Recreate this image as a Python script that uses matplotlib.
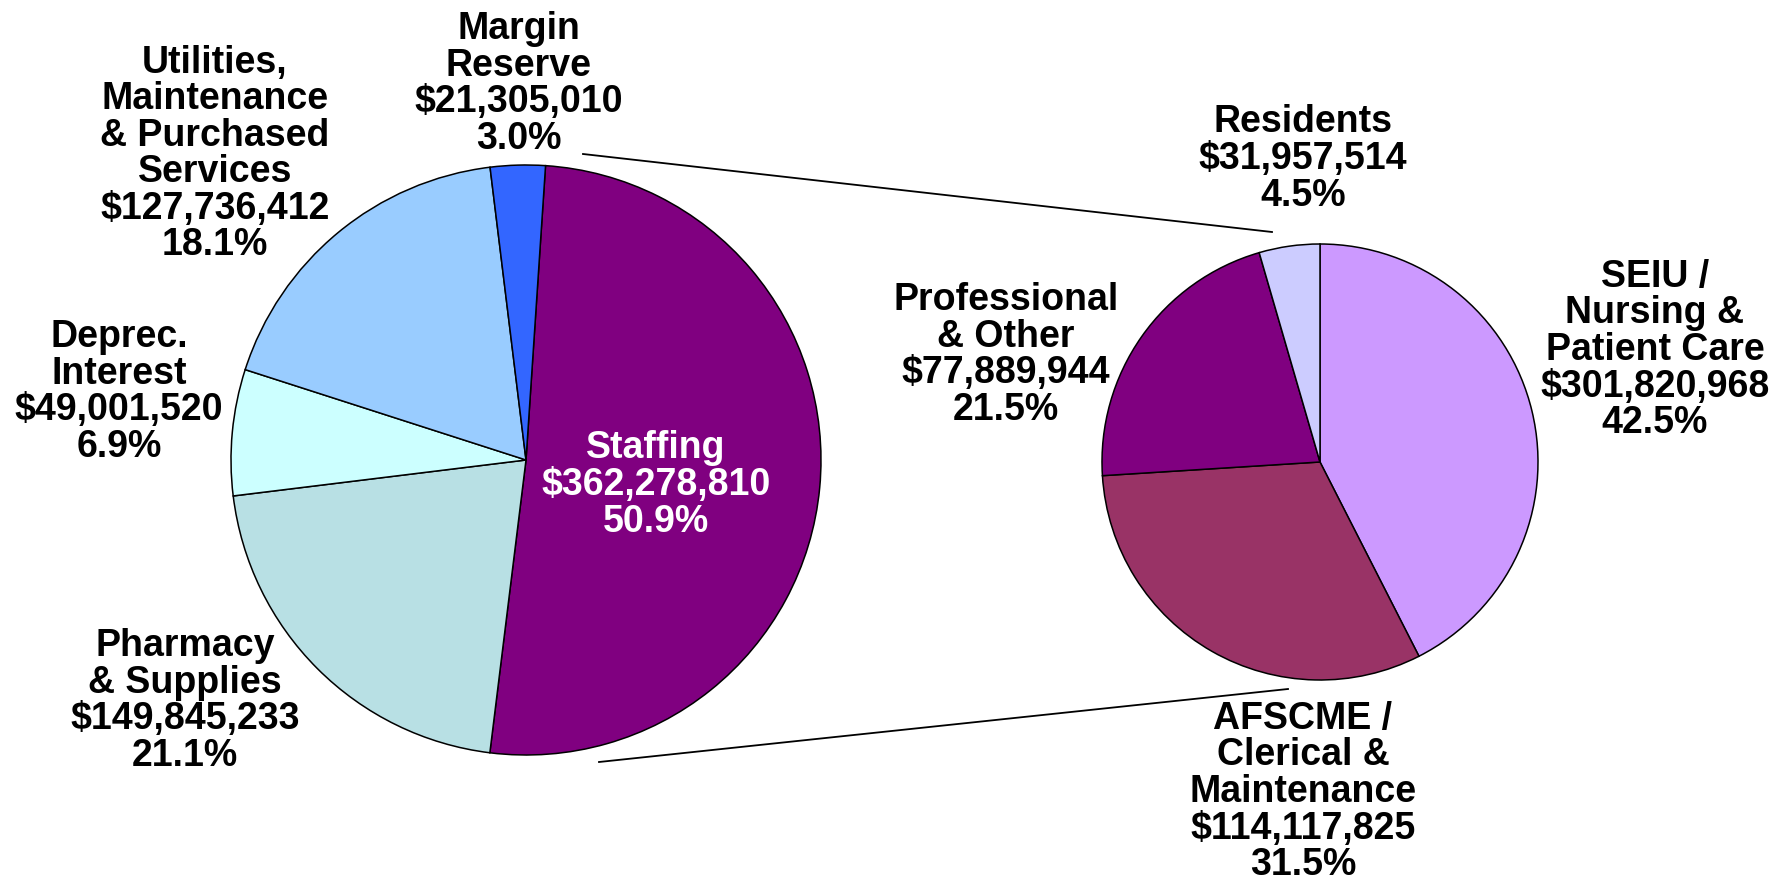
import matplotlib.pyplot as plt

plt.rcParams['font.family'] = ['Liberation Sans', 'DejaVu Sans']

# main pie: operating budget
main_labels = ["Staffing", "Pharmacy\n& Supplies", "Deprec.\nInterest",
               "Utilities,\nMaintenance\n& Purchased\nServices", "Margin\nReserve"]
main_dollars = [362278810, 149845233, 49001520, 127736412, 21305010]
main_pct = [50.9, 21.1, 6.9, 18.1, 3.0]
main_colors = ["#800080", "#B8E0E4", "#CCFFFF", "#99CCFF", "#3366FF"]

# secondary pie: staffing breakdown
sub_labels = ["SEIU /\nNursing &\nPatient Care", "AFSCME /\nClerical &\nMaintenance",
              "Professional\n& Other", "Residents"]
sub_dollars = [301820968, 114117825, 77889944, 31957514]
sub_pct = [42.5, 31.5, 21.5, 4.5]
sub_colors = ["#CC99FF", "#993366", "#800080", "#CCCCFF"]

W, H = 1790, 885
fig = plt.figure(figsize=(W / 100, H / 100), dpi=100)
ax = fig.add_axes([0, 0, 1, 1])

c1, r1 = (526, H - 460), 295
c2, r2 = (1320, H - 462), 218

wp = dict(edgecolor='black', linewidth=1.1)
ax.pie(main_pct, colors=main_colors, center=c1, radius=r1, startangle=86.2,
       counterclock=False, wedgeprops=wp, frame=True)
ax.pie(sub_pct, colors=sub_colors, center=c2, radius=r2, startangle=90,
       counterclock=False, wedgeprops=wp, frame=True)
ax.set_xlim(0, W)
ax.set_ylim(0, H)
ax.set_aspect('equal')
ax.axis('off')


def lab(name, dollars, pct):
    return f"{name}\n${dollars:,}\n{pct:.1f}%"


fs = 27
ls = 1.02
main_pos = [(656, 485), (185, 701), (119, 392), (215, 154), (519, 84)]
for i, (name, d, p, (x, y)) in enumerate(zip(main_labels, main_dollars, main_pct, main_pos)):
    ax.text(x, H - y, lab(name, d, p), ha='center', va='center', fontsize=fs,
            fontweight='bold', linespacing=ls,
            color='white' if i == 0 else 'black')

sub_pos = [(1655, 350), (1303, 792), (1006, 355), (1303, 159)]
for name, d, p, (x, y) in zip(sub_labels, sub_dollars, sub_pct, sub_pos):
    ax.text(x, H - y, lab(name, d, p), ha='center', va='center', fontsize=fs,
            fontweight='bold', linespacing=ls, color='black')

# connector lines between the two pies
ax.plot([583, 1272], [H - 154, H - 232], color='black', lw=1.3)
ax.plot([599, 1288], [H - 762, H - 689], color='black', lw=1.3)

fig.savefig("out.png", dpi=100, facecolor='white')
